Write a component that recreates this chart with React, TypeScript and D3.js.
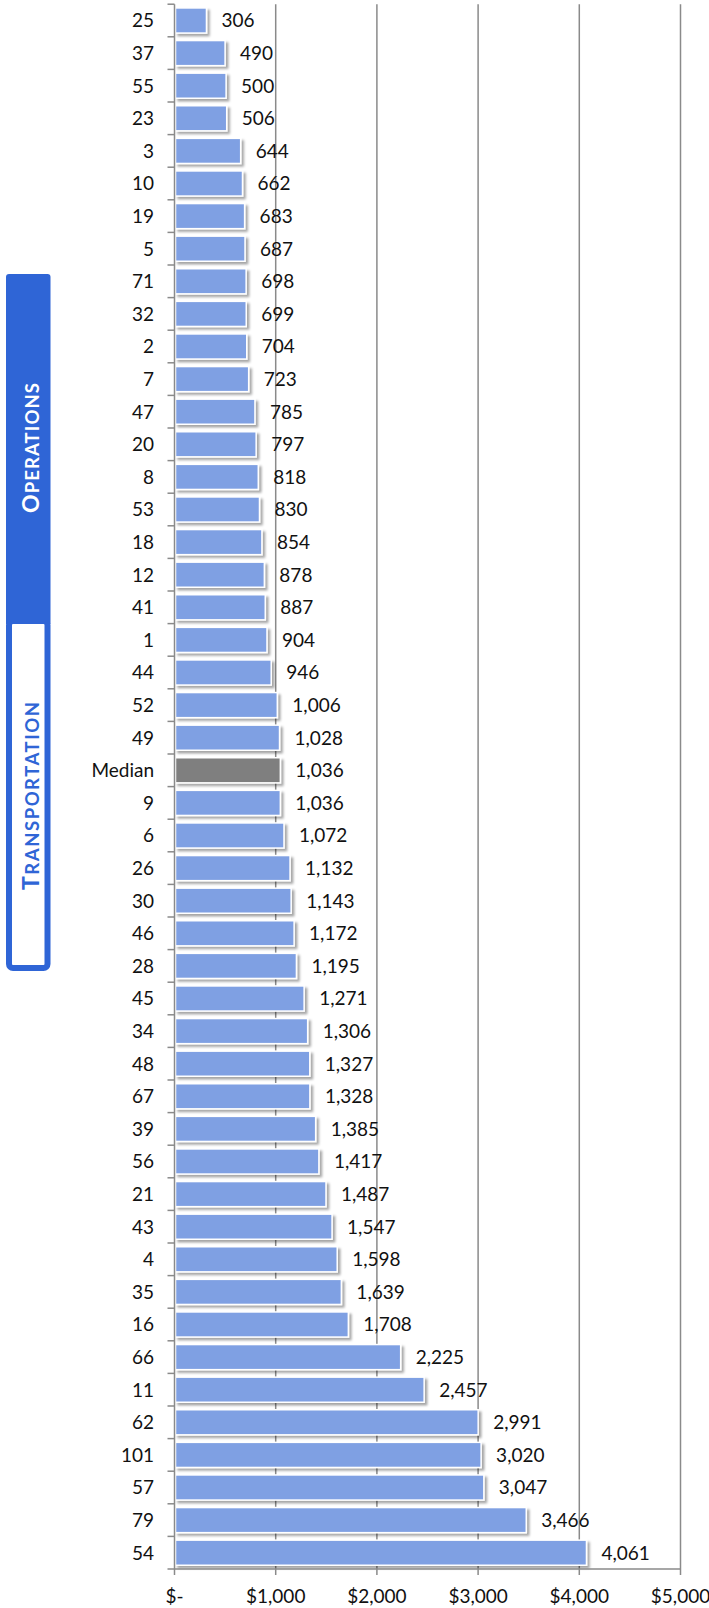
import React from "react";
import * as d3 from "d3";

const categories = ["25","37","55","23","3","10","19","5","71","32","2","7","47","20","8","53","18","12","41","1","44","52","49","Median","9","6","26","30","46","28","45","34","48","67","39","56","21","43","4","35","16","66","11","62","101","57","79","54"];
const values = [306,490,500,506,644,662,683,687,698,699,704,723,785,797,818,830,854,878,887,904,946,1006,1028,1036,1036,1072,1132,1143,1172,1195,1271,1306,1327,1328,1385,1417,1487,1547,1598,1639,1708,2225,2457,2991,3020,3047,3466,4061];
const xTicks = [0,1000,2000,3000,4000,5000];
const xTickLabels = ["$-","$1,000","$2,000","$3,000","$4,000","$5,000"];
const groupLabels = [{ first: "O", rest: "PERATIONS" }, { first: "T", rest: "RANSPORTATION" }];

const W = 709, H = 1608;
const BLUE = "#2F65D6";
const BAR = "#7FA0E3";
const GRID = "#8a8a8a";
const FONT = "Lato, 'Open Sans', sans-serif";
const FS = 19;

export default function App() {
  const x = d3.scaleLinear().domain([0, 5000]).range([174.5, 680.5]);
  const y = d3.scaleBand<string>().domain(categories).range([4.2, 1569]).paddingInner(0.23).paddingOuter(0.115);
  const fmt = d3.format(",");
  const plotTop = 4.2, plotBottom = 1569;
  return (
    <svg width={W} height={H} style={{ position: "absolute", left: 0, top: 0, background: "#fff" }} fontFamily={FONT}>
      <defs>
        <filter id="sh" x="-10%" y="-30%" width="130%" height="180%">
          <feDropShadow dx="2.5" dy="2.5" stdDeviation="1.3" floodColor="#000" floodOpacity="0.35" />
        </filter>
      </defs>
      {xTicks.slice(1).map((t) => (
        <line key={"g" + t} x1={x(t)} x2={x(t)} y1={plotTop} y2={plotBottom} stroke={GRID} strokeWidth={1.5} />
      ))}
      {categories.map((c, i) => (
        <rect key={"b" + c + i} x={x(0) + 1} y={y(c)!} width={x(values[i]) - x(0)} height={y.bandwidth()}
          fill={c === "Median" ? "#7f7f7f" : BAR} stroke="#fff" strokeWidth={1.5} filter="url(#sh)" />
      ))}
      {categories.map((c, i) => (
        <text key={"v" + c + i} x={x(values[i]) + 16} y={y(c)! + y.bandwidth() / 2} dy="0.36em"
          fontSize={FS} fill="#111">{fmt(values[i])}</text>
      ))}
      {categories.map((c, i) => (
        <text key={"c" + c + i} x={154} y={y(c)! + y.bandwidth() / 2} dy="0.36em" textAnchor="end"
          fontSize={FS} fill="#111">{c}</text>
      ))}
      <line x1={x(0)} x2={x(0)} y1={plotTop} y2={plotBottom} stroke={GRID} strokeWidth={1.5} />
      {categories.map((c, i) => (
        <line key={"yt" + i} x1={x(0) - 7} x2={x(0)} y1={plotTop + i * y.step()} y2={plotTop + i * y.step()} stroke={GRID} strokeWidth={1.5} />
      ))}
      <line x1={x(0) - 7} x2={x(5000)} y1={plotBottom} y2={plotBottom} stroke={GRID} strokeWidth={1.5} />
      {xTicks.map((t, i) => (
        <g key={"xt" + t}>
          <line x1={x(t)} x2={x(t)} y1={plotBottom} y2={plotBottom + 6} stroke={GRID} strokeWidth={1.5} />
          <text x={x(t)} y={1603} textAnchor="middle" fontSize={FS} fill="#111">{xTickLabels[i]}</text>
        </g>
      ))}
      <rect x={9} y={621} width={38.5} height={347} rx={4} fill="#fff" stroke={BLUE} strokeWidth={6} />
      <path d="M6,624 L6,277 Q6,274 9,274 L47.5,274 Q50.5,274 50.5,277 L50.5,624 Z" fill={BLUE} />
      <text transform="translate(38.5,448) rotate(-90)" textAnchor="middle" fill="#fff" fontWeight="bold"
        textLength={130} lengthAdjust="spacing">
        <tspan fontSize={23}>{groupLabels[0].first}</tspan><tspan fontSize={18.5}>{groupLabels[0].rest}</tspan>
      </text>
      <text transform="translate(38.5,796) rotate(-90)" textAnchor="middle" fill={BLUE} fontWeight="bold"
        textLength={188} lengthAdjust="spacing">
        <tspan fontSize={23}>{groupLabels[1].first}</tspan><tspan fontSize={18.5}>{groupLabels[1].rest}</tspan>
      </text>
    </svg>
  );
}
